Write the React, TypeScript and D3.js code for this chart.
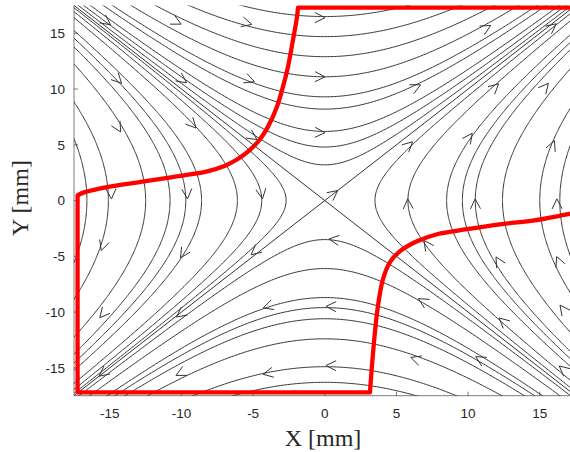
import React from "react";
import * as d3 from "d3";

// saddle flow u = y, v = x ; streamlines are hyperbolas, listed by the axis value they cross
const xTicks = [-15, -10, -5, 0, 5, 10, 15];
const yTicks = [-15, -10, -5, 0, 5, 10, 15];

const topCrossings = [3.2, 4.8, 6.2, 8.2, 9.3, 11.1, 12.9, 14.7, 16.5];
const bottomCrossings = [-3.5, -6.1, -8.7, -9.6, -10.6, -12.4, -14.9, -16.3];
const leftCrossings = [-2.7, -4.4, -6.1, -8.6, -9.7, -10.8, -12.5, -15.1, -16.6];
const rightCrossings = [3.5, 5.8, 8.5, 9.6, 10.5, 12.4, 15.0, 16.4];

// arrow heads (data coords)
const arrowX = [
  -15.2, -10.3, -5.4, -0.3, 11.3, 15.9,
  -14.4, -9.9, -5.2, -0.3, 6.4, 11.9, 15.4,
  -14.4, -9.2, -5.0, -0.3, 5.9, 10.1, 15.9,
  -14.9, -9.6, -4.4, 0.65, 5.8, 10.5, 16.2,
  -15.5, -9.9, -4.9, 0.6, 7.1, 12.1, 16.3,
  -15.5, -10.1, -4.0, 0.4, 6.8, 12.4, 16.6,
  -15.5, -10.1, -4.0, 0.4, 6.3, 10.8, 16.6,
];
const arrowY = [
  16.0, 16.0, 15.9, 16.4, 15.5, 15.6,
  10.8, 10.8, 10.8, 11.1, 10.2, 10.2, 10.2,
  6.5, 6.8, 5.7, 6.1, 5.0, 5.7, 5.0,
  0.55, 0.55, 0.55, 0.65, -0.25, -0.25, -0.25,
  -4.1, -4.8, -4.6, -3.5, -3.9, -5.4, -5.4,
  -10.2, -10.2, -9.5, -9.5, -9.0, -10.8, -9.7,
  -15.5, -15.5, -15.5, -14.8, -14.2, -14.2, -15.1,
];

// red boundary
const redLowerX = [3.15, 3.29, 3.5, 3.71, 4.06, 4.55, 5.25, 6.43, 7.83, 9.93, 12.2, 14.5, 17.1, 17.6];
const redLowerY = [-17.2, -14.82, -11.78, -9.45, -7.04, -5.52, -4.54, -3.65, -3.02, -2.57, -2.13, -1.8, -1.2, -1.1];
const redUpperX = [-1.87, -1.94, -2.22, -2.57, -2.92, -3.34, -3.96, -4.52, -5.3, -6.1, -7.0, -8.2, -9.83, -12.1, -14.9, -16.8, -17.25];
const redUpperY = [17.3, 16.46, 14.4, 11.99, 10.2, 8.42, 6.63, 5.5, 4.45, 3.7, 3.1, 2.62, 2.25, 1.81, 1.27, 0.73, 0.46];
const redLeft = -17.25;
const redBottom = -17.2;
const redTop = 17.3;
const redRight = 17.6;

const W = 570;
const H = 452;
const left = 74;
const right = 575.6;
const top = 5.4;
const bottom = 395.7;

export default function App() {
  const x = d3.scaleLinear().domain([-17.5, 17.5]).range([left, right]);
  const y = d3.scaleLinear().domain([-17.5, 17.5]).range([bottom, top]);

  const line = d3
    .line<[number, number]>()
    .x((d) => x(d[0]))
    .y((d) => y(d[1]));
  const smooth = d3
    .line<[number, number]>()
    .x((d) => x(d[0]))
    .y((d) => y(d[1]))
    .curve(d3.curveCatmullRom.alpha(0.5));

  const samples = d3.range(-18, 18.01, 0.1);
  const streams: string[] = [];
  topCrossings.forEach((a) =>
    streams.push(line(samples.map((s) => [s, Math.sqrt(a * a + s * s)] as [number, number])) || "")
  );
  bottomCrossings.forEach((a) =>
    streams.push(line(samples.map((s) => [s, -Math.sqrt(a * a + s * s)] as [number, number])) || "")
  );
  leftCrossings.forEach((a) =>
    streams.push(line(samples.map((s) => [-Math.sqrt(a * a + s * s), s] as [number, number])) || "")
  );
  rightCrossings.forEach((a) =>
    streams.push(line(samples.map((s) => [Math.sqrt(a * a + s * s), s] as [number, number])) || "")
  );
  // separatrices
  streams.push(line([[-18, -18], [18, 18]]) || "");
  streams.push(line([[-18, 18], [18, -18]]) || "");

  const sx = x(1) - x(0);
  const sy = y(0) - y(1);
  const arrows = arrowX.map((ax, i) => {
    const ay = arrowY[i];
    const px = x(ax);
    const py = y(ay);
    let dx = ay * sx;
    let dy = -ax * sy;
    const n = Math.hypot(dx, dy) || 1;
    dx /= n;
    dy /= n;
    const L = 10;
    const hw = 5;
    const tipX = px + dx * 4.5;
    const tipY = py + dy * 4.5;
    const bx = tipX - dx * L;
    const by = tipY - dy * L;
    return `M${bx - dy * hw},${by + dx * hw}L${tipX},${tipY}L${bx + dy * hw},${by - dx * hw}`;
  });

  const lowerPts = redLowerX.map((v, i) => [v, redLowerY[i]] as [number, number]);
  const upperPts = redUpperX.map((v, i) => [v, redUpperY[i]] as [number, number]);
  const redPath =
    `M${x(redLeft)},${y(redBottom)}` +
    (smooth(lowerPts) || "").replace(/^M/, "L") +
    `L${x(redRight)},${y(redTop)}` +
    (smooth(upperPts) || "").replace(/^M/, "L") +
    "Z";

  const tickColor = "#262626";

  return (
    <svg
      width={W}
      height={H}
      style={{ position: "absolute", left: 0, top: 0, background: "#fff" }}
      fontFamily="'Liberation Sans', Arial, sans-serif"
    >
      <defs>
        <clipPath id="plot">
          <rect x={left} y={top} width={right - left} height={bottom - top} />
        </clipPath>
        <filter id="soft" x="-5%" y="-5%" width="110%" height="110%">
          <feGaussianBlur stdDeviation="0.7" />
        </filter>
      </defs>

      <g clipPath="url(#plot)" fill="none" stroke="#333" strokeWidth={1}>
        {streams.map((d, i) => (
          <path key={i} d={d} />
        ))}
        {arrows.map((d, i) => (
          <path key={"a" + i} d={d} />
        ))}
      </g>

      {/* axes */}
      <g stroke={tickColor} strokeWidth={0.6} fill="none">
        <line x1={left} x2={left} y1={top} y2={bottom} />
        <line x1={left} x2={W} y1={bottom} y2={bottom} />
        {xTicks.map((t) => (
          <line key={"xt" + t} x1={x(t)} x2={x(t)} y1={bottom} y2={bottom - 4} />
        ))}
        {yTicks.map((t) => (
          <line key={"yt" + t} x1={left} x2={left + 4} y1={y(t)} y2={y(t)} />
        ))}
      </g>

      <path
        d={redPath}
        fill="none"
        stroke="#ff0000"
        strokeWidth={4.3}
        strokeLinejoin="round"
        filter="url(#soft)"
      />

      <g fill={tickColor} fontSize={13.5}>
        {xTicks.map((t) => (
          <text key={"xl" + t} x={x(t)} y={418} textAnchor="middle">
            {t}
          </text>
        ))}
        {yTicks.map((t) => (
          <text key={"yl" + t} x={65} y={y(t)} dy="0.35em" textAnchor="end">
            {t}
          </text>
        ))}
      </g>

      <text
        x={323}
        y={446}
        textAnchor="middle"
        fontFamily="'Liberation Serif', 'Times New Roman', serif"
        fontSize={24}
        fill={tickColor}
      >
        X [mm]
      </text>
      <text
        transform={`translate(28,198) rotate(-90)`}
        textAnchor="middle"
        fontFamily="'Liberation Serif', 'Times New Roman', serif"
        fontSize={24}
        fill={tickColor}
      >
        Y [mm]
      </text>
    </svg>
  );
}
